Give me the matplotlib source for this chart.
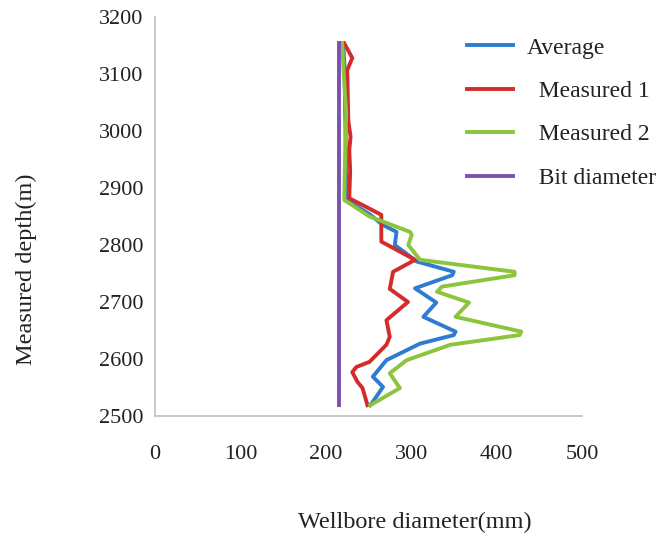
import matplotlib
matplotlib.use("Agg")
import matplotlib.pyplot as plt

plt.rcParams['font.family'] = ['Liberation Serif', 'DejaVu Serif']

# Average
avg_x = [220.4, 222.0, 222.7, 223.5, 224.0, 251.2, 267.0, 282.8, 280.8, 306.5, 349.9, 348.0,
         304.5, 329.4, 314.3, 351.9, 349.9, 310.4, 271.0, 255.1, 267.0, 255.1, 252.0]
avg_d = [3154, 3110, 3032, 2960, 2879, 2854, 2835, 2823, 2800, 2771, 2753, 2747,
         2724, 2699, 2674, 2648, 2642, 2627, 2598, 2569, 2551, 2525, 2519]

# Measured 1
m1_x = [221.6, 231.0, 225.1, 226.3, 229.0, 227.5, 228.5, 227.5, 265.0, 265.0, 304.5, 278.8,
        274.9, 296.2, 271.0, 274.9, 271.0, 251.2, 235.8, 231.0, 237.0, 243.0, 248.8]
m1_d = [3154, 3128, 3107, 3019, 2990, 2967, 2930, 2882, 2853, 2806, 2774, 2753,
        2723, 2700, 2668, 2639, 2625, 2595, 2586, 2577, 2560, 2549, 2519]

# Measured 2
m2_x = [219.2, 221.0, 223.9, 222.5, 221.6, 251.2, 298.6, 300.6, 296.6, 310.4, 421.0, 421.0,
        336.1, 330.2, 367.7, 351.9, 428.9, 426.9, 346.0, 294.7, 274.9, 286.7, 259.1, 252.0]
m2_d = [3154, 3100, 3032, 2950, 2879, 2850, 2823, 2818, 2800, 2774, 2753, 2747,
        2727, 2718, 2699, 2674, 2648, 2642, 2625, 2598, 2575, 2549, 2525, 2519]

# Bit diameter
bit_x = [215.9, 215.9]
bit_d = [3154, 2519]

x_ticks = [0, 100, 200, 300, 400, 500]
y_ticks = [2500, 2600, 2700, 2800, 2900, 3000, 3100, 3200]

fig = plt.figure(figsize=(6.61, 5.40), dpi=100)
W, H = 661, 540
l, r, t, b = 155, 582, 17, 416
ax = fig.add_axes([l / W, 1 - b / H, (r - l) / W, (b - t) / H])

lw = 2.8
ax.plot(avg_x, avg_d, color='#2F7BD0', lw=lw, label='Average', solid_joinstyle='round')
ax.plot(m1_x, m1_d, color='#D42B2B', lw=lw, label='  Measured 1', solid_joinstyle='round')
ax.plot(m2_x, m2_d, color='#8CC43C', lw=lw, label='  Measured 2', solid_joinstyle='round')
ax.plot(bit_x, bit_d, color='#7B50B0', lw=lw, label='  Bit diameter')

ax.set_xlim(0, 500)
ax.set_ylim(2500, 3200)
ax.set_xticks(x_ticks)
ax.set_yticks(y_ticks)
ax.tick_params(axis='both', length=0, labelsize=16, colors='#222222')
ax.tick_params(axis='x', pad=21)
ax.tick_params(axis='y', pad=8.5)
for s in ['top', 'right']:
    ax.spines[s].set_visible(False)
for s in ['left', 'bottom']:
    ax.spines[s].set_color('#c0c0c0')
    ax.spines[s].set_linewidth(1.2)

fig.text(26 / W, 1 - 269 / H, 'Measured depth(m)', rotation=90, ha='center', va='center',
         fontsize=17.5, color='#222222')
fig.text(415 / W, 1 - 522 / H, 'Wellbore diameter(mm)', ha='center', va='center',
         fontsize=17.5, color='#222222')

ax.legend(loc='upper left', bbox_to_anchor=(467 / W, 1 - 37 / H), bbox_transform=fig.transFigure,
          frameon=False, fontsize=17, handlelength=1.95, handletextpad=0.6,
          labelspacing=0.93, borderpad=0, borderaxespad=0, labelcolor='#222222')

fig.savefig('out.png', dpi=100)
